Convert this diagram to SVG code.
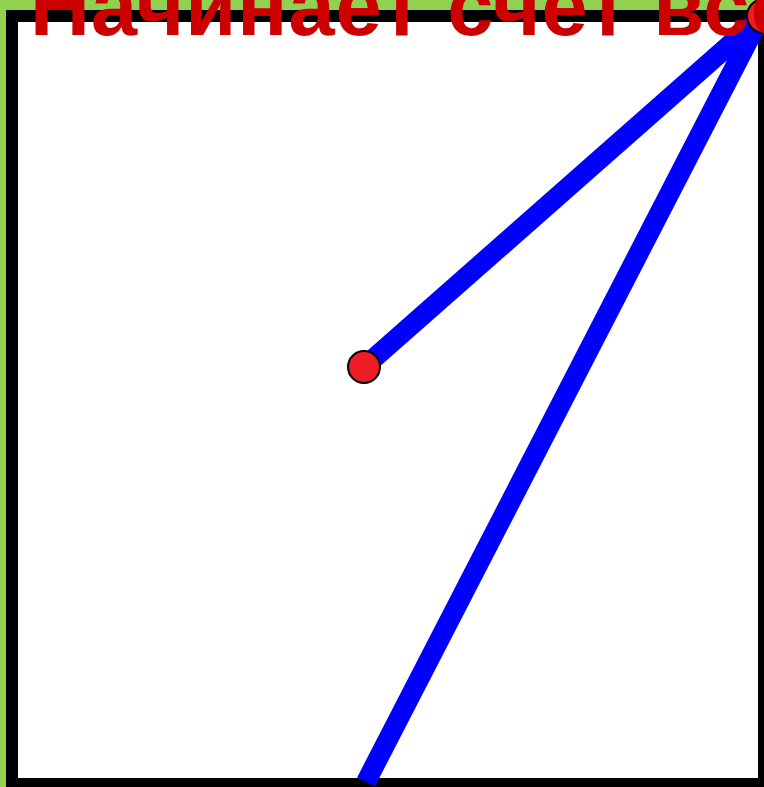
<svg xmlns="http://www.w3.org/2000/svg" width="764" height="787" viewBox="0 0 764 787">
<style>
.conn{stroke:#0000ff;stroke-width:20;fill:none;stroke-linecap:butt}
.pt{fill:#ee1c24;stroke:#000;stroke-width:2}
.title{font-family:"Liberation Sans",Arial,sans-serif;font-weight:bold;font-size:83px;fill:#cc0000;letter-spacing:1px}
</style>
<rect x="0" y="0" width="764" height="787" fill="#92d050"/>
<g id="frame"><rect x="12" y="16" width="752" height="768" fill="#fff" stroke="#000" stroke-width="12"/></g>
<g id="connectors">
<line class="conn" x1="364" y1="367" x2="760" y2="18"/>
<line class="conn" x1="760" y1="18" x2="366" y2="782"/>
</g>
<g id="node-center"><circle class="pt" cx="364" cy="367" r="16"/></g>
<g id="node-corner"><circle class="pt" cx="764" cy="16" r="17"/></g>
<g id="label"><text class="title" x="30" y="35">Начинает счет все</text></g>
</svg>
